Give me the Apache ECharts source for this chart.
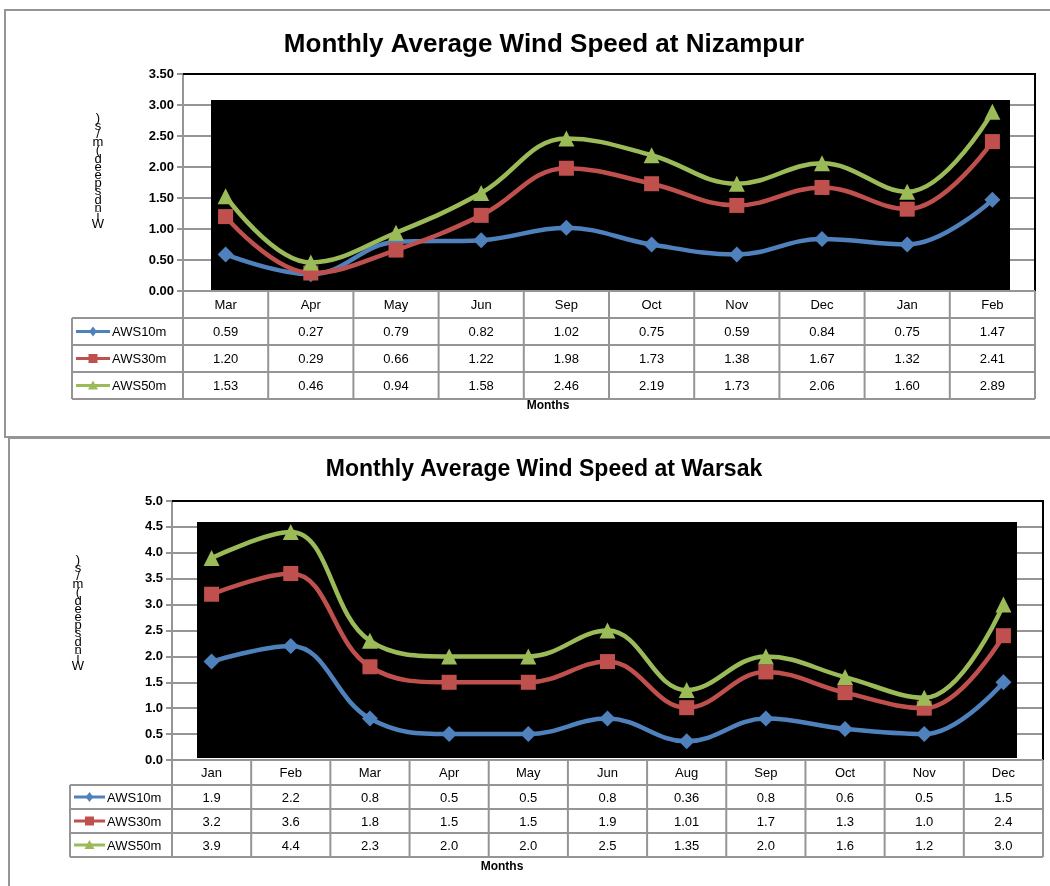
<!DOCTYPE html>
<html>
<head>
<meta charset="utf-8">
<script src="https://cdn.jsdelivr.net/npm/echarts@6/dist/echarts.min.js"></script>
<style>
html,body{margin:0;padding:0;background:#fff}
#main{width:1050px;height:886px}
</style>
</head>
<body>
<div id="main"></div>
<script>
// Nizampur
var monthsNizampur = ['Mar', 'Apr', 'May', 'Jun', 'Sep', 'Oct', 'Nov', 'Dec', 'Jan', 'Feb'];
var nizAws10 = [0.59, 0.27, 0.79, 0.82, 1.02, 0.75, 0.59, 0.84, 0.75, 1.47];
var nizAws30 = [1.20, 0.29, 0.66, 1.22, 1.98, 1.73, 1.38, 1.67, 1.32, 2.41];
var nizAws50 = [1.53, 0.46, 0.94, 1.58, 2.46, 2.19, 1.73, 2.06, 1.60, 2.89];
// Warsak
var monthsWarsak = ['Jan', 'Feb', 'Mar', 'Apr', 'May', 'Jun', 'Aug', 'Sep', 'Oct', 'Nov', 'Dec'];
var warAws10 = [1.9, 2.2, 0.8, 0.5, 0.5, 0.8, 0.36, 0.8, 0.6, 0.5, 1.5];
var warAws30 = [3.2, 3.6, 1.8, 1.5, 1.5, 1.9, 1.01, 1.7, 1.3, 1.0, 2.4];
var warAws50 = [3.9, 4.4, 2.3, 2.0, 2.0, 2.5, 1.35, 2.0, 1.6, 1.2, 3.0];

var seriesNames = ['AWS10m', 'AWS30m', 'AWS50m'];
var colors = ['#4F81BD', '#C0504D', '#9BBB59'];
var symbols = ['diamond', 'rect', 'triangle'];
var titles = ['Monthly Average Wind Speed at Nizampur', 'Monthly Average Wind Speed at Warsak'];
var yName = 'Wind speed (m/s)';

var FONT = '"Liberation Sans", Arial, sans-serif';
var GRAY = '#959595';

// layout of the two panels
var cfgs = [
	{ left: 183, top: 74, right: 1035, bottom: 291, max: 3.5, interval: 0.5, digits: 2,
	  black: [211, 100, 1010, 291], legendLeft: 72, rowY: [291, 318, 345, 372, 399],
	  titleY: 45, titleSize: 26, monthsX: 548, monthsY: 406, yNameX: 98, yNameY: 114 },
	{ left: 172, top: 501, right: 1043, bottom: 760, max: 5, interval: 0.5, digits: 1,
	  black: [197, 522, 1017, 758], legendLeft: 70, rowY: [760, 785, 809, 833, 857],
	  titleY: 470, titleSize: 23, monthsX: 502, monthsY: 867, yNameX: 78, yNameY: 556 }
];
var months = [monthsNizampur, monthsWarsak];
var data = [[nizAws10, nizAws30, nizAws50], [warAws10, warAws30, warAws50]];

function fmtCell(v, k) {
	if (k == 0) return v.toFixed(2);
	return (Math.round(v * 10) == v * 10) ? v.toFixed(1) : v.toFixed(2);
}

function markerShape(type, cx, cy, s, color) {
	var h = s / 2;
	if (type == 'rect') {
		return { type: 'rect', shape: { x: cx - h, y: cy - h, width: s, height: s }, style: { fill: color }, z: 10 };
	}
	var pts;
	if (type == 'diamond') pts = [[cx, cy - h], [cx + h * 0.75, cy], [cx, cy + h], [cx - h * 0.75, cy]];
	else pts = [[cx, cy - h], [cx + h, cy + h * 0.8], [cx - h, cy + h * 0.8]];
	return { type: 'polygon', shape: { points: pts }, style: { fill: color }, z: 10 };
}

var graphic = [];
// outer frames
graphic.push({ type: 'rect', shape: { x: 5, y: 10, width: 1100, height: 427 }, style: { fill: null, stroke: GRAY, lineWidth: 2 }, z: 0 });
graphic.push({ type: 'rect', shape: { x: 9, y: 438, width: 1100, height: 500 }, style: { fill: null, stroke: GRAY, lineWidth: 2 }, z: 0 });

var grids = [], xAxes = [], yAxes = [], series = [];

for (var k = 0; k < 2; k++) {
	var c = cfgs[k];
	grids.push({ left: c.left, top: c.top, width: c.right - c.left, height: c.bottom - c.top, containLabel: false });
	xAxes.push({ type: 'category', gridIndex: k, data: months[k], boundaryGap: true,
		axisLine: { show: false }, axisTick: { show: false }, axisLabel: { show: false }, splitLine: { show: false } });
	yAxes.push({ type: 'value', gridIndex: k, min: 0, max: c.max, interval: c.interval,
		axisLine: { show: true, lineStyle: { color: GRAY, width: 2 } },
		axisTick: { show: true, length: 6, lineStyle: { color: GRAY, width: 2 } },
		splitLine: { show: true, lineStyle: { color: GRAY, width: 2 } },
		axisLabel: { color: '#000', fontFamily: FONT, fontWeight: 'bold', fontSize: 13, margin: 9,
			formatter: (function (d) { return function (v) { return v.toFixed(d); }; })(c.digits) } });

	for (var s = 0; s < 3; s++) {
		series.push({ name: seriesNames[s], type: 'line', xAxisIndex: k, yAxisIndex: k,
			data: data[k][s], smooth: 0.4, symbol: symbols[s], symbolSize: s == 1 ? 15 : 16,
			lineStyle: { color: colors[s], width: 4.5 }, itemStyle: { color: colors[s] }, z: 5 });
	}

	// title
	graphic.push({ type: 'text', x: 544, y: c.titleY, style: { text: titles[k], font: 'bold ' + c.titleSize + 'px ' + FONT,
		fill: '#000', align: 'center', verticalAlign: 'middle' }, z: 3 });
	// black plot area
	graphic.push({ type: 'rect', shape: { x: c.black[0], y: c.black[1], width: c.black[2] - c.black[0], height: c.black[3] - c.black[1] },
		style: { fill: '#000' }, z: 1 });
	// plot area border (top + right)
	graphic.push({ type: 'polyline', shape: { points: [[c.left, c.top], [c.right, c.top], [c.right, c.bottom]] },
		style: { stroke: '#000', lineWidth: 2, fill: null }, z: 2 });
	// stacked y axis name
	graphic.push({ type: 'text', x: c.yNameX, y: c.yNameY, style: { text: yName.replace(/ /g, '').split('').reverse().join('\n'),
		font: '13px ' + FONT, fill: '#000', align: 'center', lineHeight: 8.2 }, z: 3 });
	// months label
	graphic.push({ type: 'text', x: c.monthsX, y: c.monthsY, style: { text: 'Months', font: 'bold 12px ' + FONT,
		fill: '#000', align: 'center', verticalAlign: 'middle' }, z: 3 });

	// data table
	var n = months[k].length, colW = (c.right - c.left) / n, r = c.rowY;
	for (var i = 0; i < r.length; i++) {
		var x1 = i == 0 ? c.left : c.legendLeft;
		graphic.push({ type: 'line', shape: { x1: x1, y1: r[i], x2: c.right, y2: r[i] }, style: { stroke: GRAY, lineWidth: 2 }, z: 3 });
	}
	for (var j = 0; j <= n; j++) {
		var xx = c.left + j * colW;
		graphic.push({ type: 'line', shape: { x1: xx, y1: r[0], x2: xx, y2: r[4] }, style: { stroke: GRAY, lineWidth: 2 }, z: 3 });
	}
	graphic.push({ type: 'line', shape: { x1: c.legendLeft, y1: r[1], x2: c.legendLeft, y2: r[4] }, style: { stroke: GRAY, lineWidth: 2 }, z: 3 });
	for (var j = 0; j < n; j++) {
		var cx = c.left + (j + 0.5) * colW;
		graphic.push({ type: 'text', x: cx, y: (r[0] + r[1]) / 2 + 1, style: { text: months[k][j], font: '13px ' + FONT,
			fill: '#000', align: 'center', verticalAlign: 'middle' }, z: 3 });
		for (var s = 0; s < 3; s++) {
			graphic.push({ type: 'text', x: cx, y: (r[s + 1] + r[s + 2]) / 2 + 1, style: { text: fmtCell(data[k][s][j], k), font: '13px ' + FONT,
				fill: '#000', align: 'center', verticalAlign: 'middle' }, z: 3 });
		}
	}
	// legend keys
	for (var s = 0; s < 3; s++) {
		var cy = (r[s + 1] + r[s + 2]) / 2;
		var lx = c.legendLeft + 4, lw = k == 0 ? 34 : 31;
		graphic.push({ type: 'line', shape: { x1: lx, y1: cy, x2: lx + lw, y2: cy }, style: { stroke: colors[s], lineWidth: 3 }, z: 9 });
		graphic.push(markerShape(symbols[s], lx + lw / 2, cy, s == 1 ? 9 : 10, colors[s]));
		graphic.push({ type: 'text', x: lx + lw + 2, y: cy + 1, style: { text: seriesNames[s], font: '13px ' + FONT,
			fill: '#000', align: 'left', verticalAlign: 'middle' }, z: 3 });
	}
}

var myChart = echarts.init(document.getElementById('main'));
var option = {
	backgroundColor: '#fff',
	animation: false,
	grid: grids,
	xAxis: xAxes,
	yAxis: yAxes,
	series: series,
	graphic: graphic
};
myChart.setOption(option);
</script>
</body>
</html>
